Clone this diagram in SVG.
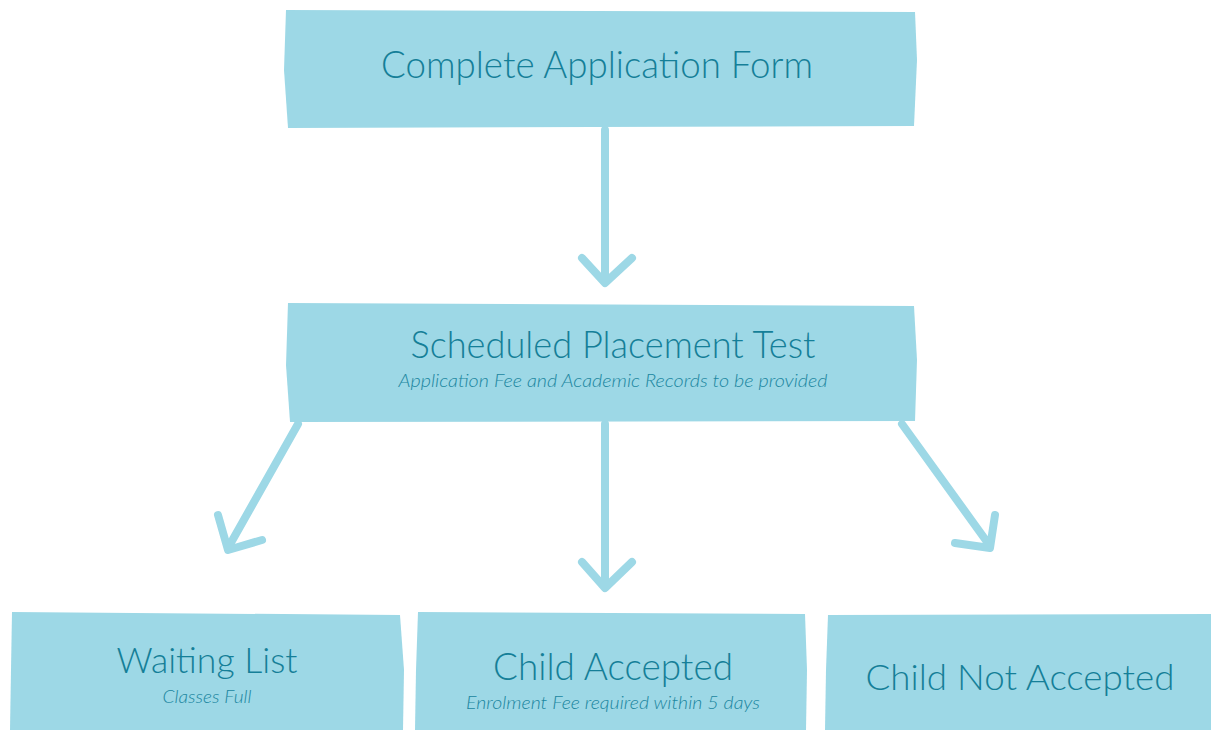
<svg xmlns="http://www.w3.org/2000/svg" width="1211" height="730" viewBox="0 0 1211 730">
<style>
.box{fill:#9dd8e6}
.t{font-family:Lato,"Open Sans",sans-serif;font-weight:300;fill:#157f98;text-anchor:middle}
.s{font-family:Lato,"Open Sans",sans-serif;font-style:italic;font-weight:300;fill:#1b86a0;text-anchor:middle}
.c{stroke:#9dd8e6;stroke-width:8;stroke-linecap:round;stroke-linejoin:round;fill:none}
</style>
<rect width="1211" height="730" fill="#ffffff"/>
<g id="connectors">
<path class="c" d="M605 130 L605 280 M582 258 L605 283 L632 258"/>
<path class="c" d="M605 424 L605 585 M582 562 L605 588 L632 562"/>
<path class="c" d="M298 424 L228 548 M218 515 L228 550 L262 540"/>
<path class="c" d="M902 424 L990 546 M995 515 L990 548 L955 543"/>
</g>
<g id="node-application">
<path class="box" d="M286 10 L915 12 L917 60 L914 126 L288 128 L284 70 Z"/>
<text class="t" x="597" y="78" font-size="38" textLength="432" lengthAdjust="spacingAndGlyphs">Complete Application Form</text>
</g>
<g id="node-placement">
<path class="box" d="M288 303 L914 306 L917 360 L915 421 L290 422 L286 365 Z"/>
<text class="t" x="613" y="358" font-size="38" textLength="405" lengthAdjust="spacingAndGlyphs">Scheduled Placement Test</text>
<text class="s" x="613" y="387" font-size="18" textLength="429" lengthAdjust="spacingAndGlyphs">Application Fee and Academic Records to be provided</text>
</g>
<g id="node-waiting">
<path class="box" d="M12 612 L400 615 L404 670 L403 730 L10 730 L11 670 Z"/>
<text class="t" x="207" y="673" font-size="36" textLength="181" lengthAdjust="spacingAndGlyphs">Waiting List</text>
<text class="s" x="207" y="703" font-size="18" textLength="89" lengthAdjust="spacingAndGlyphs">Classes Full</text>
</g>
<g id="node-accepted">
<path class="box" d="M418 612 L805 614 L807 670 L806 730 L415 730 L416 670 Z"/>
<text class="t" x="613" y="680" font-size="38" textLength="240" lengthAdjust="spacingAndGlyphs">Child Accepted</text>
<text class="s" x="613" y="709" font-size="18" textLength="294" lengthAdjust="spacingAndGlyphs">Enrolment Fee required within 5 days</text>
</g>
<g id="node-not-accepted">
<path class="box" d="M828 615 L1211 614 L1211 730 L825 730 L826 670 Z"/>
<text class="t" x="1020" y="690" font-size="36" textLength="309" lengthAdjust="spacingAndGlyphs">Child Not Accepted</text>
</g>
</svg>
